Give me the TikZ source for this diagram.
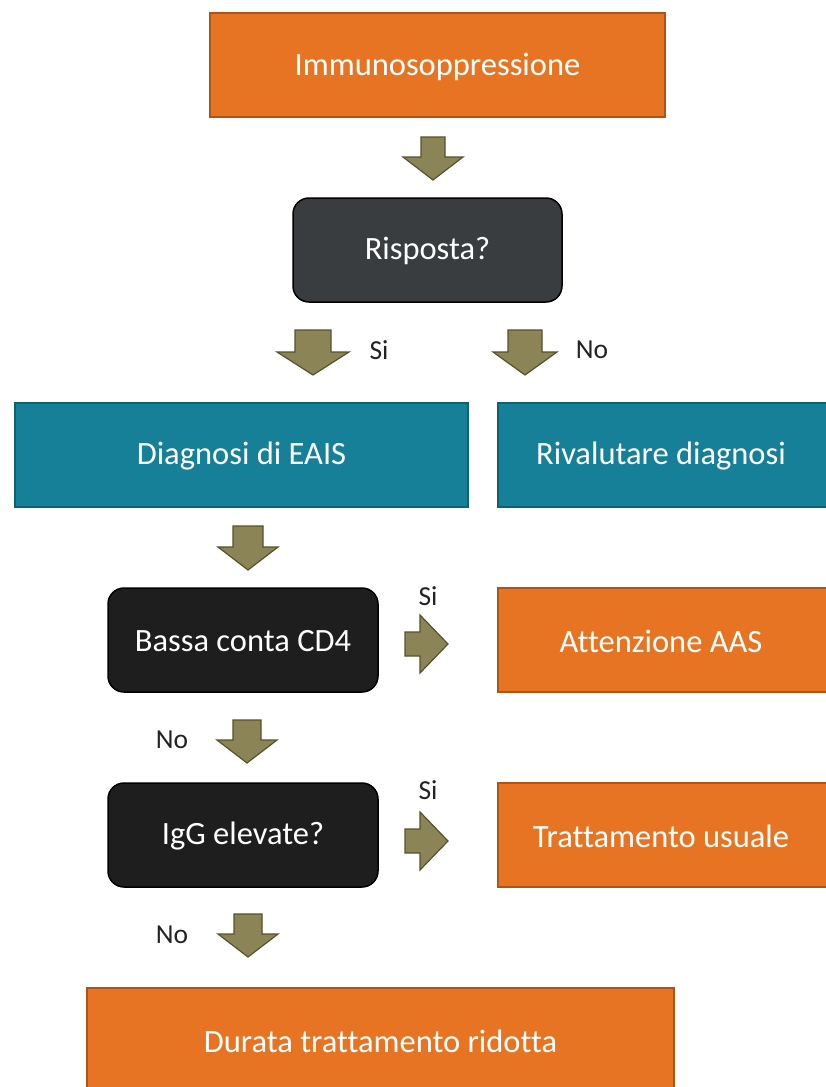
\documentclass[tikz,border=0pt]{standalone}
\usepackage{fontspec}
\setmainfont{Carlito}[Ligatures={NoCommon}]
\definecolor{orfill}{RGB}{231,116,35}
\definecolor{ordraw}{RGB}{176,84,22}
\definecolor{tefill}{RGB}{22,128,152}
\definecolor{tedraw}{RGB}{14,96,116}
\definecolor{gyfill}{RGB}{58,61,64}
\definecolor{bkfill}{RGB}{30,30,30}
\definecolor{arfill}{RGB}{138,132,86}
\definecolor{ardraw}{RGB}{86,82,42}
\definecolor{lbl}{RGB}{35,35,35}
\tikzset{
  box/.style={rectangle, line width=1.5pt, text=white, inner sep=0pt,
    font=\fontsize{32.5}{38}\selectfont},
  obox/.style={box, fill=orfill, draw=ordraw},
  tbox/.style={box, fill=tefill, draw=tedraw},
  gbox/.style={box, fill=gyfill, draw=black, rounded corners=16pt},
  kbox/.style={box, fill=bkfill, draw=black, rounded corners=16pt},
  arr/.style={fill=arfill, draw=ardraw, line width=1.2pt, line join=miter},
  lab/.style={text=lbl, inner sep=0pt, font=\fontsize{27.5}{32}\selectfont}
}
% down block arrow: cx, top, length, head length, shaft half, head half
\newcommand\dArrow[6]{%
  \draw[arr] ({#1-#5},#2) -- ({#1+#5},#2) -- ({#1+#5},{#2+#3-#4}) -- ({#1+#6},{#2+#3-#4})
    -- (#1,{#2+#3}) -- ({#1-#6},{#2+#3-#4}) -- ({#1-#5},{#2+#3-#4}) -- cycle;}
% right block arrow: left, cy, length, head length, shaft half, head half
\newcommand\rArrow[6]{%
  \draw[arr] (#1,{#2-#5}) -- (#1,{#2+#5}) -- ({#1+#3-#4},{#2+#5}) -- ({#1+#3-#4},{#2+#6})
    -- ({#1+#3},#2) -- ({#1+#3-#4},{#2-#6}) -- ({#1+#3-#4},{#2-#5}) -- cycle;}
\begin{document}
\begin{tikzpicture}[x=1pt,y=-1pt]
\useasboundingbox (0,0) rectangle (826,1087);
\clip (0,0) rectangle (826,1087);
\fill[white] (0,0) rectangle (826,1087);

\node[obox, minimum width=455pt, minimum height=104pt] (imm) at (437.5,65) {};
\node[gbox, minimum width=269pt, minimum height=104pt] (ris) at (427.5,250) {};
\node[tbox, minimum width=453pt, minimum height=104pt] (dia) at (241.5,455) {};
\node[tbox, minimum width=330pt, minimum height=104pt] (riv) at (663,455) {};
\node[kbox, minimum width=270pt, minimum height=104pt] (cd4) at (243,640) {};
\node[obox, minimum width=330pt, minimum height=104pt] (aas) at (663,640) {};
\node[kbox, minimum width=270pt, minimum height=104pt] (igg) at (243,835) {};
\node[obox, minimum width=330pt, minimum height=104pt] (tru) at (663,835) {};
\node[obox, minimum width=587pt, minimum height=104pt] (dur) at (380.5,1040) {};

\node[box, draw=none, fill=none] (timm) at ([yshift=-2pt]imm.center) {Immunosoppressione};
\node[box, draw=none, fill=none] (tris) at ([yshift=-1pt]ris.center) {Risposta?};
\node[box, draw=none, fill=none] (tdia) at ([yshift=-1pt]dia.center) {Diagnosi di EAIS};
\node[box, draw=none, fill=none] (triv) at ([yshift=-1pt,xshift=-2pt]riv.center) {Rivalutare diagnosi};
\node[box, draw=none, fill=none] (tcd4) at ([yshift=-1pt]cd4.center) {Bassa conta CD4};
\node[box, draw=none, fill=none] (taas) at ([yshift=-1pt,xshift=-2pt]aas.center) {Attenzione AAS};
\node[box, draw=none, fill=none] (tigg) at ([yshift=-1pt]igg.center) {IgG elevate?};
\node[box, draw=none, fill=none] (ttru) at ([yshift=-1pt,xshift=-2pt]tru.center) {Trattamento usuale};
\node[box, draw=none, fill=none] (tdur) at ([yshift=-1pt]dur.center) {Durata trattamento ridotta};

\dArrow{433}{137}{43}{23}{12}{30}
\dArrow{313}{330}{45}{23}{18}{36}
\dArrow{525}{330}{45}{23}{17}{32}
\dArrow{248}{526}{44}{23}{15}{30}
\dArrow{247}{720}{43}{23}{14}{30}
\dArrow{248}{914}{43}{23}{14}{30}
\rArrow{405}{644}{43}{28}{12}{29}
\rArrow{405}{841}{43}{28}{12}{29}

\node[lab] (l1) at (379,350) {Si};
\node[lab] (l2) at (592,350) {No};
\node[lab] (l3) at (428,596) {Si};
\node[lab] (l4) at (172,740) {No};
\node[lab] (l5) at (428,790) {Si};
\node[lab] (l6) at (172,935) {No};
\end{tikzpicture}
\end{document}
